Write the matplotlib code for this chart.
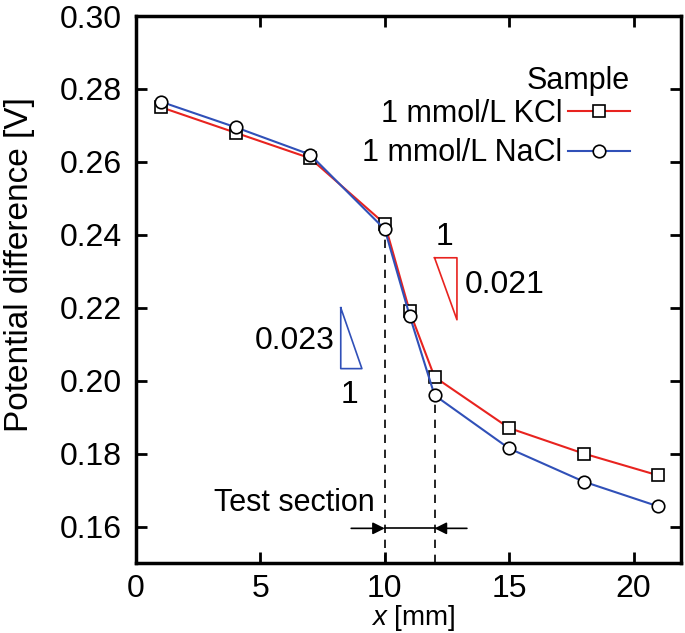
import matplotlib
matplotlib.use('Agg')
import matplotlib.pyplot as plt

plt.rcParams.update({
    'font.family': 'sans-serif',
    'font.sans-serif': ['Liberation Sans', 'DejaVu Sans'],
    'font.size': 22,
    'mathtext.fontset': 'custom',
    'mathtext.it': 'Liberation Sans:italic',
    'mathtext.rm': 'Liberation Sans',
})

# ===================== DATA =====================
x_mm = [1, 4, 7, 10, 11, 12, 15, 18, 21]
v_kcl = [0.275, 0.268, 0.261, 0.243, 0.219, 0.201, 0.187, 0.180, 0.174]
v_nacl = [0.2765, 0.2695, 0.262, 0.2415, 0.2178, 0.196, 0.1814, 0.1723, 0.1655]
labels = ['1 mmol/L KCl', '1 mmol/L NaCl']
test_section = [10, 12]

# ===================== PLOT =====================
fig = plt.figure(figsize=(6.85, 6.33), dpi=100)
ax = fig.add_axes([0.1985, 0.1106, 0.7955, 0.8641])

ax.plot(x_mm, v_kcl, color='#e8231f', lw=1.5, marker='s', ms=8,
        mfc='white', mec='black', mew=1.2, label=labels[0], zorder=4)
ax.plot(x_mm, v_nacl, color='#3050b8', lw=1.5, marker='o', ms=9,
        mfc='white', mec='black', mew=1.2, label=labels[1], zorder=4)

# test section markers
ax.plot([test_section[0]] * 2, [0.15, v_nacl[3] - 0.002], color='black',
        ls=(0, (5, 4)), lw=1.2, zorder=2)
ax.plot([test_section[1]] * 2, [0.15, v_nacl[5] - 0.002], color='black',
        ls=(0, (5, 4)), lw=1.2, zorder=2)
ya = 0.1595
ax.plot(test_section, [ya, ya], color='black', lw=1.2)
ax.annotate('', xy=(10, ya), xytext=(8.65, ya),
            arrowprops=dict(arrowstyle='-|>', color='black', lw=1.2,
                            mutation_scale=18, shrinkA=0, shrinkB=0))
ax.annotate('', xy=(12, ya), xytext=(13.3, ya),
            arrowprops=dict(arrowstyle='-|>', color='black', lw=1.2,
                            mutation_scale=18, shrinkA=0, shrinkB=0))
ax.text(9.6, 0.1664, 'Test section', ha='right', va='center', fontsize=22)

# slope triangles
ax.plot([12.0, 12.9, 12.9, 12.0], [0.2337, 0.2337, 0.2167, 0.2337],
        color='#e8231f', lw=1.2)
ax.text(12.4, 0.2352, '1', ha='center', va='bottom', fontsize=23)
ax.text(13.2, 0.2262, '0.021', ha='left', va='center', fontsize=23)

ax.plot([8.23, 8.23, 9.08, 8.23], [0.2200, 0.2033, 0.2033, 0.2200],
        color='#3050b8', lw=1.2)
ax.text(8.0, 0.2108, '0.023', ha='right', va='center', fontsize=23)
ax.text(8.6, 0.2003, '1', ha='center', va='top', fontsize=23)

ax.set_xlim(0, 21.9)
ax.set_ylim(0.15, 0.30)
ax.set_xticks([0, 5, 10, 15, 20])
ax.set_yticks([0.16, 0.18, 0.20, 0.22, 0.24, 0.26, 0.28, 0.30])
ax.yaxis.set_major_formatter(matplotlib.ticker.FormatStrFormatter('%.2f'))
ax.tick_params(direction='in', length=8, width=2, top=True, right=True,
               labelsize=23, pad=10)
ax.tick_params(axis='x', pad=8)
for s in ax.spines.values():
    s.set_linewidth(2.5)

ax.set_xlabel('$x$ [mm]', fontsize=20)
ax.xaxis.set_label_coords(0.508, -0.073)
ax.set_ylabel('Potential difference [V]', fontsize=24)
ax.yaxis.set_label_coords(-0.185, 0.545)

leg = ax.legend(title='Sample', loc='upper right', bbox_to_anchor=(0.945, 0.947),
                frameon=False, markerfirst=False, fontsize=22,
                title_fontsize=22, handlelength=2.0, handletextpad=0.2,
                labelspacing=0.3, borderpad=0.2)
leg._legend_box.align = 'right'
leg._legend_box.sep = 2

fig.savefig('out.png', dpi=100)
